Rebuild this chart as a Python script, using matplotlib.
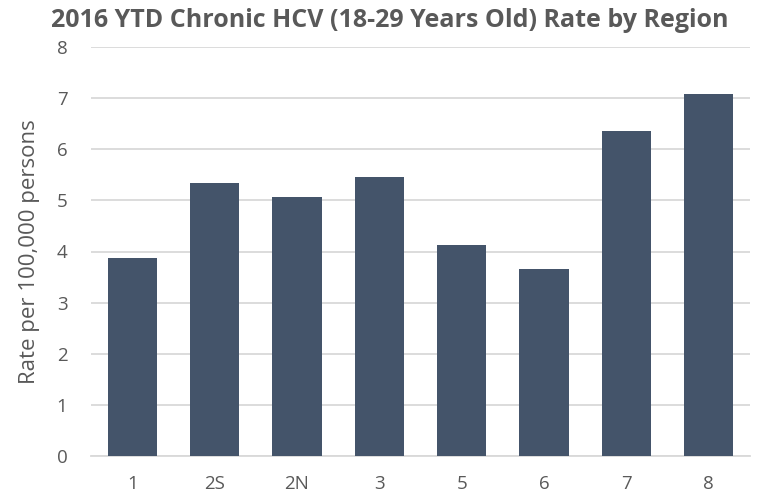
from matplotlib import pyplot as plt

regions = ['1', '2S', '2N', '3', '5', '6', '7', '8']
rates = [3.87, 5.34, 5.07, 5.45, 4.12, 3.66, 6.36, 7.08]
yticks = [0, 1, 2, 3, 4, 5, 6, 7, 8]

plt.rcParams['font.family'] = ['Open Sans', 'DejaVu Sans']

fig = plt.figure(figsize=(7.59, 5.0), dpi=100)
ax = fig.add_axes([0.12, 0.088, 0.868, 0.818])

ax.bar(range(len(regions)), rates, width=0.6, color='#44546A', zorder=3)

ax.set_xlim(-0.5, len(regions) - 0.5)
ax.set_ylim(0, 8)
ax.set_xticks(range(len(regions)))
ax.set_xticklabels(regions)
ax.set_yticks(yticks)

# light horizontal grid, no frame
ax.grid(axis='y', color='#D9D9D9', linewidth=1.3, zorder=0)
for s in ['top', 'right', 'left']:
    ax.spines[s].set_visible(False)
ax.spines['bottom'].set_color('#D9D9D9')
ax.spines['bottom'].set_linewidth(1.3)
ax.tick_params(length=0, labelsize=13.5, colors='#595959')
ax.tick_params(axis='x', pad=14)
ax.tick_params(axis='y', pad=17)

ax.set_ylabel('Rate per 100,000 persons', fontsize=16, color='#595959', labelpad=12)
fig.text(0.514, 0.946, '2016 YTD Chronic HCV (18-29 Years Old) Rate by Region',
         ha='center', va='baseline', fontsize=18, fontweight='bold', color='#595959')

plt.savefig('out.png', dpi=100)
